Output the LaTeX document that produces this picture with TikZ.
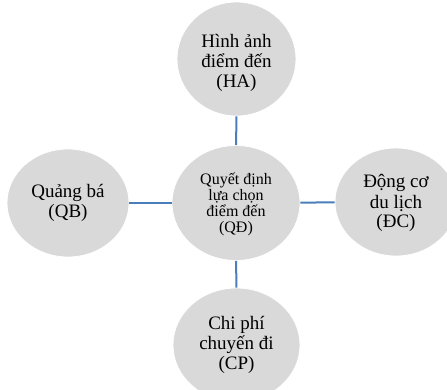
\documentclass[tikz,border=0pt]{standalone}
\usepackage{fontspec}
\setmainfont{Liberation Serif}
\usetikzlibrary{shapes.geometric}
\definecolor{nodegray}{HTML}{D9D9D9}
\definecolor{linkblue}{HTML}{4A7EBB}
\newcommand{\lowertext}[2]{\raisebox{-#1}[\height][\depth]{\begin{tabular}{@{}c@{}}#2\end{tabular}}}
\tikzset{
  bubble/.style={ellipse, fill=nodegray, draw=white, line width=0.8pt, inner sep=0pt,
    align=center, font=\fontsize{19}{20}\selectfont},
  hub/.style={bubble, font=\fontsize{16}{15.8}\selectfont},
  link/.style={draw=linkblue, line width=2pt}
}
\begin{document}
\begin{tikzpicture}[x=1pt,y=-1pt]
\useasboundingbox (0,0) rectangle (447,390);
\clip (0,0) rectangle (447,390);
\node[bubble, minimum width=119pt, minimum height=114pt] (HA) at (236.5,59) {\lowertext{5pt}{Hình ảnh\\điểm đến\\(HA)}};
\node[hub, minimum width=128pt, minimum height=115pt] (QD) at (236,203) {\lowertext{2pt}{Quyết định\\lựa chọn\\điểm đến\\(QĐ)}};
\node[bubble, minimum width=122pt, minimum height=108pt] (QB) at (68,203) {Quảng bá\\(QB)};
\node[bubble, minimum width=122pt, minimum height=108pt] (DC) at (396,202) {\lowertext{2pt}{Động cơ\\du lịch\\(ĐC)}};
\node[bubble, minimum width=127pt, minimum height=114pt] (CP) at (236.5,345) {Chi phí\\chuyến đi\\(CP)};
\draw[link] (HA) -- (QD);
\draw[link] (QD) -- (CP);
\draw[link] (QB) -- (QD);
\draw[link] (QD) -- (DC);
\end{tikzpicture}
\end{document}
